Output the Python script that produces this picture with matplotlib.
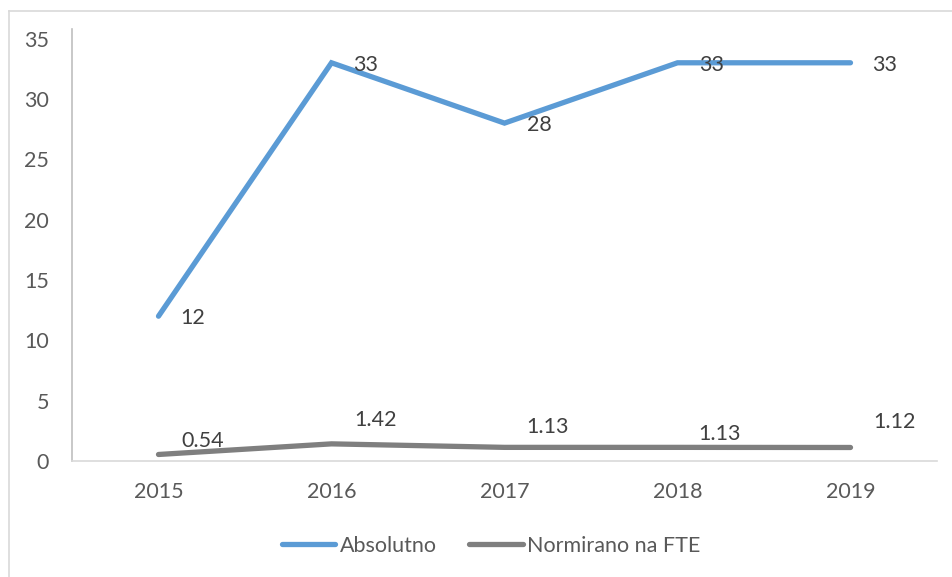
import matplotlib
matplotlib.use("Agg")
import matplotlib.pyplot as plt
from matplotlib.lines import Line2D

# data
years = ["2015", "2016", "2017", "2018", "2019"]
absolutno = [12, 33, 28, 33, 33]
normirano = [0.54, 1.42, 1.13, 1.13, 1.12]
absolutno_labels = ["12", "33", "28", "33", "33"]
normirano_labels = ["0.54", "1.42", "1.13", "1.13", "1.12"]

BLUE = "#5B9BD5"
GRAY = "#7F7F7F"
TEXT = "#595959"
LABEL = "#404040"
FS = 15.5

plt.rcParams["font.family"] = ["Lato", "DejaVu Sans"]

fig = plt.figure(figsize=(9.52, 5.77), dpi=100)
W, H = 952, 577
ax = fig.add_axes([72 / W, 1 - 461 / H, (937 - 72) / W, (461 - 29) / H])

x = list(range(len(years)))
ax.plot(x, absolutno, color=BLUE, lw=3.8, solid_capstyle="round",
        solid_joinstyle="miter", label="Absolutno")
ax.plot(x, normirano, color=GRAY, lw=3.8, solid_capstyle="round",
        solid_joinstyle="miter", label="Normirano na FTE")

# data labels, offsets in pixels
for xi, v, lab in zip(x, absolutno, absolutno_labels):
    ax.annotate(lab, (xi, v), xytext=(22, -2), textcoords="offset pixels",
                ha="left", va="center", fontsize=FS, color=LABEL)

gray_offsets = [(44, 13), (44, 24), (43, 20), (42, 13), (44, 25)]
for xi, v, lab, off in zip(x, normirano, normirano_labels, gray_offsets):
    ax.annotate(lab, (xi, v), xytext=off, textcoords="offset pixels",
                ha="center", va="center", fontsize=FS, color=LABEL)

ax.set_xlim(-0.5, 4.5)
ax.set_ylim(0, 35.8)
ax.set_yticks(range(0, 36, 5))
ax.set_xticks(x)
ax.set_xticklabels(years)
ax.tick_params(axis="both", length=0, labelsize=FS, labelcolor=TEXT)
ax.tick_params(axis="y", pad=16.5)
ax.tick_params(axis="x", pad=15)

for side in ("top", "right"):
    ax.spines[side].set_visible(False)
ax.spines["left"].set_color("#BFBFBF")
ax.spines["bottom"].set_color("#D9D9D9")
ax.spines["left"].set_linewidth(1.2)
ax.spines["bottom"].set_linewidth(1.2)

leg = fig.legend(loc="center", bbox_to_anchor=(491 / W, 1 - 546 / H), ncol=2,
                 frameon=False, fontsize=FS, handlelength=2.5,
                 handletextpad=0.2, columnspacing=1.5)
for t in leg.get_texts():
    t.set_color(TEXT)

# chart border (only left and top edges are visible in the crop)
fig.add_artist(Line2D([9 / W, 9 / W], [0, 1 - 11 / H], color="#D9D9D9", lw=1.2))
fig.add_artist(Line2D([9 / W, 1], [1 - 11 / H, 1 - 11 / H], color="#D9D9D9", lw=1.2))

fig.savefig("out.png", dpi=100, facecolor="white")
